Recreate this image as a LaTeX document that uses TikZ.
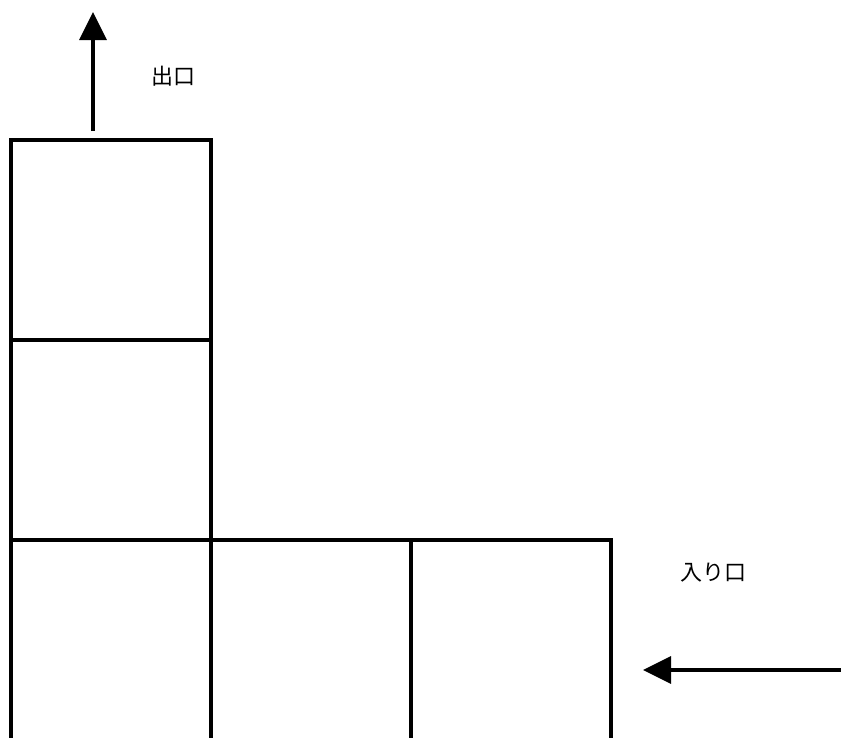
\documentclass[tikz,border=0pt]{standalone}
\usepackage{fontspec}
\newfontfamily\cjk{Noto Sans CJK JP}
\usetikzlibrary{arrows.meta}
\begin{document}
\begin{tikzpicture}[x=1pt,y=-1pt,
  wall/.style={line width=3.2pt,line cap=rect},
  flow/.style={line width=3.2pt,-{Triangle[length=28pt,width=27pt]}},
  lbl/.style={font=\cjk\fontsize{22}{22}\selectfont,inner sep=0pt}]
\useasboundingbox (0,0) rectangle (841,737);
\begin{scope}
\clip (0,0) rectangle (841,737);
% left column boxes
\draw[wall] (11,140) rectangle (211,340);
\draw[wall] (11,340) rectangle (211,540);
% bottom row (cut at picture edge)
\draw[wall] (11,760) -- (11,540) -- (611,540) -- (611,760);
\draw[wall] (211,540) -- (211,760);
\draw[wall] (411,540) -- (411,760);
\end{scope}
\coordinate (outS) at (93,131);
\coordinate (outE) at (93,12);
\coordinate (inS) at (841,670);
\coordinate (inE) at (643,670);
\draw[flow] (outS) -- (outE);
\draw[flow] (inS) -- (inE);
\node[lbl] (out) at (173,76) {出口};
\node[lbl] (in) at (713,573) {入り口};
\end{tikzpicture}
\end{document}
